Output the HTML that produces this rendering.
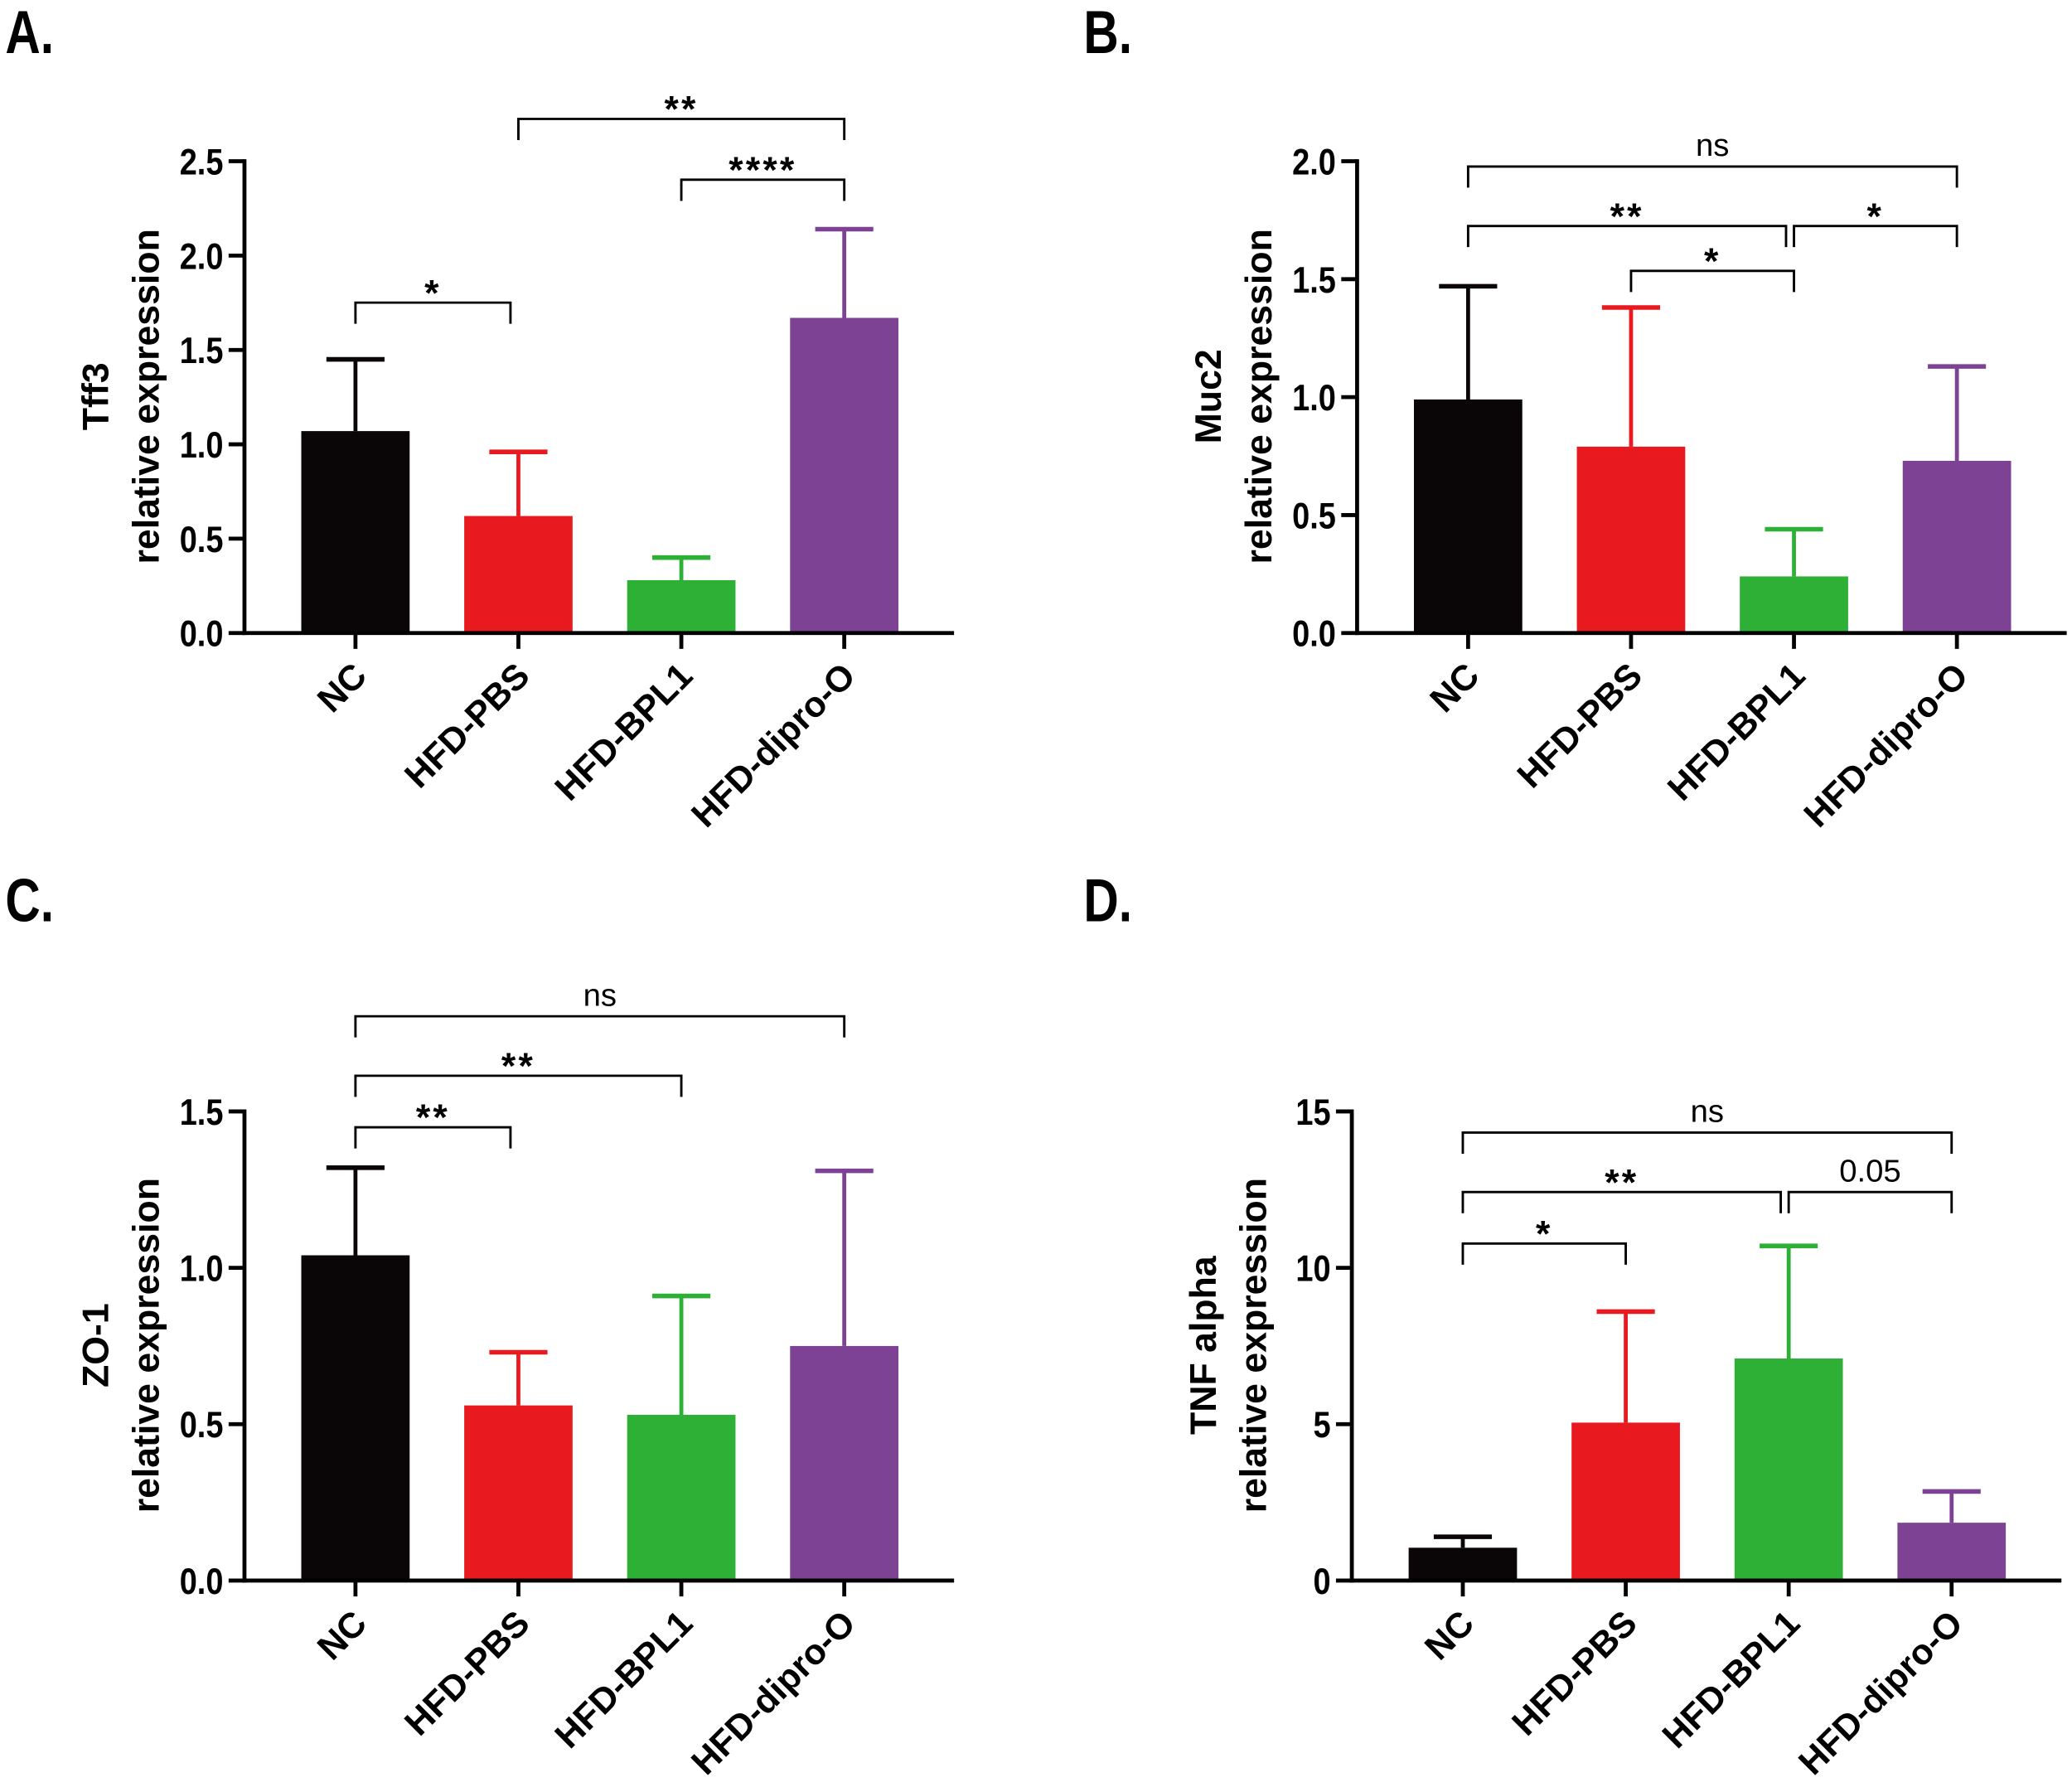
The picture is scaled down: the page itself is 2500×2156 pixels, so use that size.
<!DOCTYPE html>
<html><head><meta charset="utf-8"><style>
html,body{margin:0;padding:0;background:#fff;}
svg{display:block;}
text{font-family:"Liberation Sans",sans-serif;}
</style></head><body>
<svg id="fig" width="2500" height="2156" viewBox="0 0 1568 1352.2" preserveAspectRatio="none" xmlns="http://www.w3.org/2000/svg"></svg>
<script>
const categories = ["NC","HFD-PBS","HFD-BPL1","HFD-dipro-O"];
const colors = ["#0a0506","#e8191f","#2eaf36","#7d4294"];
// Panel A
const tff3Means = [1.07,0.62,0.28,1.67];
const tff3Errors = [0.38,0.34,0.12,0.47];
const tff3Ticks = [0,0.5,1.0,1.5,2.0,2.5];
const tff3Sig = [[0,1,"*"],[1,3,"**"],[2,3,"****"]];
// Panel B
const muc2Means = [0.99,0.79,0.24,0.73];
const muc2Errors = [0.48,0.59,0.20,0.40];
const muc2Ticks = [0,0.5,1.0,1.5,2.0];
const muc2Sig = [[0,3,"ns"],[0,2,"**"],[2,3,"*"],[1,2,"*"]];
// Panel C
const zo1Means = [1.04,0.56,0.53,0.75];
const zo1Errors = [0.28,0.17,0.38,0.56];
const zo1Ticks = [0,0.5,1.0,1.5];
const zo1Sig = [[0,3,"ns"],[0,2,"**"],[0,1,"**"]];
// Panel D
const tnfMeans = [1.05,5.05,7.1,1.85];
const tnfErrors = [0.35,3.55,3.6,1.0];
const tnfTicks = [0,5,10,15];
const tnfSig = [[0,3,"ns"],[0,2,"**"],[2,3,"0.05"],[0,1,"*"]];

const NS="http://www.w3.org/2000/svg";
const svg=document.getElementById('fig');
function mk(tag,attrs,parent,txt){const e=document.createElementNS(NS,tag);for(const k in attrs)e.setAttribute(k,attrs[k]);if(txt!==undefined)e.textContent=txt;(parent||svg).appendChild(e);return e;}

function panel(cfg){
  const g=mk('g',{});
  
  
  const yMax=cfg.ticks[cfg.ticks.length-1];
  const y=v=>cfg.y0-(v/yMax)*(cfg.y0-cfg.yTop);
  const x=i=>cfg.x0+84+i*123.3;
  const L=mk('text',{x:cfg.lx,y:cfg.ly,'font-size':46,'font-weight':'bold',transform:`translate(${cfg.lx},0) scale(0.8,1) translate(${-cfg.lx},0)`},g,cfg.letter);
  
  
  cfg.means.forEach((m,i)=>{
    const cx=x(i), top=y(m+cfg.errs[i]);
    const el=mk('line',{x1:cx,x2:cx,y1:y(m),y2:top,stroke:colors[i],'stroke-width':3},g);
    
    
    const cap=mk('line',{x1:cx-22,x2:cx+22,y1:top,y2:top,stroke:colors[i],'stroke-width':3.5},g);
    
    
    const b=mk('rect',{x:cx-41,y:y(m),width:82,height:cfg.y0-y(m),fill:colors[i]},g);
    
    
    const t=mk('line',{x1:cx,x2:cx,y1:cfg.y0,y2:cfg.y0+12,stroke:'#000','stroke-width':3},g);
    
    
    const lx=cx+10, ly=cfg.y0+34;
    const lb=mk('text',{x:lx,y:ly,'font-size':27,'font-weight':'bold','text-anchor':'end',transform:`rotate(-45 ${lx} ${ly})`},g,categories[i]);
    
    
  });
  const ya=mk('line',{x1:cfg.x0,x2:cfg.x0,y1:cfg.yTop-1.5,y2:cfg.y0+1.5,stroke:'#000','stroke-width':3},g);
  
  
  const xa=mk('line',{x1:cfg.x0-1.5,x2:cfg.x0+537,y1:cfg.y0,y2:cfg.y0,stroke:'#000','stroke-width':3},g);
  
  
  cfg.ticks.forEach(v=>{
    const tk=mk('line',{x1:cfg.x0-12,x2:cfg.x0,y1:y(v),y2:y(v),stroke:'#000','stroke-width':3},g);
    
    
    const tx=cfg.x0-16;
    const tl=mk('text',{x:tx,y:y(v)+10,'font-size':28,'font-weight':'bold','text-anchor':'end',transform:`translate(${tx},0) scale(0.85,1) translate(${-tx},0)`},g,cfg.fmt(v));
    
    
  });
  const tt=mk('text',{'font-size':28,'font-weight':'bold','text-anchor':'middle',transform:`translate(${cfg.x0-103},${cfg.titleY}) rotate(-90)`},g,cfg.title);
  
  
  const t2=mk('text',{'font-size':28,'font-weight':'bold','text-anchor':'middle','xml:space':'preserve',transform:`translate(${cfg.x0-65},${cfg.titleY}) rotate(-90)`},g,cfg.sub);
  
  
  cfg.sig.forEach((s,k)=>{
    const by=cfg.sigY[k], x1=x(s[0]), x2=x(s[1])-(cfg.sigShrink&&cfg.sigShrink[k]?6:0);
    const br=mk('path',{d:`M${x1},${by+16}V${by}H${x2}V${by+16}`,fill:'none',stroke:'#000','stroke-width':1.8},g);
    
    
    const isStar=s[2].indexOf('*')>=0;
    const st=mk('text',{x:(x1+x2)/2,y:isStar?by+2:by-8,'font-size':isStar?28:24,'font-weight':isStar?'bold':'normal','text-anchor':'middle','letter-spacing':isStar?2:0},g,s[2]);
    
    
  });
}
const f1=v=>v.toFixed(1), f0=v=>String(v);
panel({id:'a',letter:'A.',lx:4,ly:40,x0:185,y0:479,yTop:122,ticks:tff3Ticks,means:tff3Means,errs:tff3Errors,fmt:f1,title:'Tff3',sub:'relative  expression',titleY:300,sig:tff3Sig,sigY:[229,90,136],sigShrink:[1,0,0]});
panel({id:'b',letter:'B.',lx:820,ly:40,x0:1027,y0:479,yTop:122,ticks:muc2Ticks,means:muc2Means,errs:muc2Errors,fmt:f1,title:'Muc2',sub:'relative expression',titleY:300,sig:muc2Sig,sigY:[126,171,171,205],sigShrink:[0,1,0,0]});
panel({id:'c',letter:'C.',lx:4,ly:697,x0:185,y0:1196,yTop:841,ticks:zo1Ticks,means:zo1Means,errs:zo1Errors,fmt:f1,title:'ZO-1',sub:'relative expression',titleY:1018,sig:zo1Sig,sigY:[769,814,853],sigShrink:[0,0,1]});
panel({id:'d',letter:'D.',lx:820,ly:697,x0:1023,y0:1196,yTop:841,ticks:tnfTicks,means:tnfMeans,errs:tnfErrors,fmt:f0,title:'TNF alpha',sub:'relative expression',titleY:1018,sig:tnfSig,sigY:[857,902,902,941],sigShrink:[0,1,0,0]});
</script>
</body></html>
